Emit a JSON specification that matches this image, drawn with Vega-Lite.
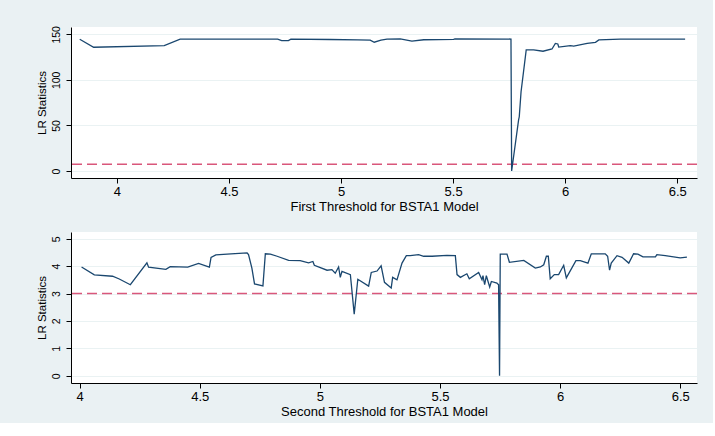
{
  "$schema": "https://vega.github.io/schema/vega-lite/v6.json",
  "background": "#eaf1f3",
  "padding": {"left": 36, "top": 25, "right": 15, "bottom": 5},
  "autosize": {"type": "pad"},
  "datasets": {
    "first": [
      {"threshold": 3.834, "lr": 144.6},
      {"threshold": 3.896, "lr": 135.8},
      {"threshold": 4.211, "lr": 137.5},
      {"threshold": 4.282, "lr": 144.6},
      {"threshold": 4.5, "lr": 144.8},
      {"threshold": 4.717, "lr": 144.6},
      {"threshold": 4.735, "lr": 143.0},
      {"threshold": 4.765, "lr": 143.0},
      {"threshold": 4.776, "lr": 144.6},
      {"threshold": 4.95, "lr": 144.3},
      {"threshold": 5.074, "lr": 143.8},
      {"threshold": 5.13, "lr": 143.6},
      {"threshold": 5.148, "lr": 141.3},
      {"threshold": 5.178, "lr": 143.5},
      {"threshold": 5.205, "lr": 144.6},
      {"threshold": 5.264, "lr": 145.0},
      {"threshold": 5.316, "lr": 142.4},
      {"threshold": 5.369, "lr": 144.0},
      {"threshold": 5.502, "lr": 144.5},
      {"threshold": 5.508, "lr": 145.0},
      {"threshold": 5.758, "lr": 144.8},
      {"threshold": 5.761, "lr": 0},
      {"threshold": 5.792, "lr": 56},
      {"threshold": 5.795, "lr": 59.5},
      {"threshold": 5.803, "lr": 87},
      {"threshold": 5.826, "lr": 132.8},
      {"threshold": 5.859, "lr": 132.8},
      {"threshold": 5.901, "lr": 131.4},
      {"threshold": 5.941, "lr": 133.9},
      {"threshold": 5.956, "lr": 140},
      {"threshold": 5.967, "lr": 139.4},
      {"threshold": 5.971, "lr": 136},
      {"threshold": 6.023, "lr": 137.5},
      {"threshold": 6.038, "lr": 137},
      {"threshold": 6.098, "lr": 140},
      {"threshold": 6.135, "lr": 141.2},
      {"threshold": 6.15, "lr": 143.8},
      {"threshold": 6.246, "lr": 144.6},
      {"threshold": 6.535, "lr": 144.6}
    ],
    "second": [
      {"threshold": 4.008, "lr": 3.97},
      {"threshold": 4.061, "lr": 3.68},
      {"threshold": 4.137, "lr": 3.63},
      {"threshold": 4.165, "lr": 3.53},
      {"threshold": 4.211, "lr": 3.32},
      {"threshold": 4.28, "lr": 4.12},
      {"threshold": 4.287, "lr": 3.96},
      {"threshold": 4.359, "lr": 3.88},
      {"threshold": 4.377, "lr": 3.98},
      {"threshold": 4.45, "lr": 3.96},
      {"threshold": 4.495, "lr": 4.10},
      {"threshold": 4.54, "lr": 3.96},
      {"threshold": 4.547, "lr": 4.32},
      {"threshold": 4.567, "lr": 4.41},
      {"threshold": 4.63, "lr": 4.45},
      {"threshold": 4.697, "lr": 4.48},
      {"threshold": 4.703, "lr": 4.42},
      {"threshold": 4.717, "lr": 3.93},
      {"threshold": 4.728, "lr": 3.35},
      {"threshold": 4.763, "lr": 3.28},
      {"threshold": 4.773, "lr": 4.45},
      {"threshold": 4.794, "lr": 4.44},
      {"threshold": 4.822, "lr": 4.36},
      {"threshold": 4.87, "lr": 4.21},
      {"threshold": 4.918, "lr": 4.20},
      {"threshold": 4.953, "lr": 4.12},
      {"threshold": 4.971, "lr": 4.17},
      {"threshold": 4.977, "lr": 4.03},
      {"threshold": 5.03, "lr": 3.85},
      {"threshold": 5.05, "lr": 3.87},
      {"threshold": 5.064, "lr": 3.74},
      {"threshold": 5.078, "lr": 3.97},
      {"threshold": 5.085, "lr": 3.59},
      {"threshold": 5.092, "lr": 3.81},
      {"threshold": 5.127, "lr": 3.69},
      {"threshold": 5.143, "lr": 2.25},
      {"threshold": 5.158, "lr": 3.52},
      {"threshold": 5.203, "lr": 3.27},
      {"threshold": 5.214, "lr": 3.77},
      {"threshold": 5.238, "lr": 3.82},
      {"threshold": 5.255, "lr": 4.01},
      {"threshold": 5.269, "lr": 3.41},
      {"threshold": 5.297, "lr": 3.20},
      {"threshold": 5.303, "lr": 3.59},
      {"threshold": 5.321, "lr": 3.50},
      {"threshold": 5.342, "lr": 4.11},
      {"threshold": 5.36, "lr": 4.38},
      {"threshold": 5.376, "lr": 4.38},
      {"threshold": 5.411, "lr": 4.42},
      {"threshold": 5.432, "lr": 4.36},
      {"threshold": 5.467, "lr": 4.36},
      {"threshold": 5.529, "lr": 4.39},
      {"threshold": 5.564, "lr": 4.38},
      {"threshold": 5.571, "lr": 3.69},
      {"threshold": 5.585, "lr": 3.59},
      {"threshold": 5.612, "lr": 3.72},
      {"threshold": 5.622, "lr": 3.54},
      {"threshold": 5.661, "lr": 3.77},
      {"threshold": 5.675, "lr": 3.50},
      {"threshold": 5.679, "lr": 3.65},
      {"threshold": 5.686, "lr": 3.32},
      {"threshold": 5.693, "lr": 3.65},
      {"threshold": 5.707, "lr": 3.24},
      {"threshold": 5.714, "lr": 3.44},
      {"threshold": 5.737, "lr": 3.38},
      {"threshold": 5.744, "lr": 3.32},
      {"threshold": 5.748, "lr": 0.0},
      {"threshold": 5.751, "lr": 4.44},
      {"threshold": 5.779, "lr": 4.44},
      {"threshold": 5.789, "lr": 4.14},
      {"threshold": 5.849, "lr": 4.21},
      {"threshold": 5.897, "lr": 3.93},
      {"threshold": 5.918, "lr": 3.97},
      {"threshold": 5.932, "lr": 4.05},
      {"threshold": 5.943, "lr": 4.36},
      {"threshold": 5.951, "lr": 4.36},
      {"threshold": 5.959, "lr": 3.54},
      {"threshold": 5.976, "lr": 3.69},
      {"threshold": 5.994, "lr": 3.69},
      {"threshold": 6.015, "lr": 4.03},
      {"threshold": 6.026, "lr": 3.57},
      {"threshold": 6.066, "lr": 4.20},
      {"threshold": 6.084, "lr": 4.20},
      {"threshold": 6.116, "lr": 4.11},
      {"threshold": 6.13, "lr": 4.45},
      {"threshold": 6.188, "lr": 4.45},
      {"threshold": 6.198, "lr": 4.36},
      {"threshold": 6.206, "lr": 3.85},
      {"threshold": 6.213, "lr": 4.11},
      {"threshold": 6.237, "lr": 4.38},
      {"threshold": 6.258, "lr": 4.32},
      {"threshold": 6.286, "lr": 4.11},
      {"threshold": 6.306, "lr": 4.45},
      {"threshold": 6.324, "lr": 4.44},
      {"threshold": 6.345, "lr": 4.34},
      {"threshold": 6.397, "lr": 4.34},
      {"threshold": 6.403, "lr": 4.42},
      {"threshold": 6.438, "lr": 4.38},
      {"threshold": 6.5, "lr": 4.30},
      {"threshold": 6.528, "lr": 4.33}
    ],
    "crit1": [{"crit": 7.35}],
    "crit2": [{"crit": 3.0}]
  },
  "config": {
    "font": "Liberation Sans",
    "view": {"fill": "white", "stroke": null},
    "axis": {
      "domainColor": "#000000",
      "tickColor": "#000000",
      "labelColor": "#000000",
      "titleColor": "#000000",
      "labelFont": "Liberation Sans",
      "titleFont": "Liberation Sans",
      "labelFontSize": 13,
      "titleFontSize": 13,
      "titleFontWeight": "normal",
      "gridColor": "#eaf2f3",
      "gridWidth": 1.2,
      "tickSize": 5,
      "domainWidth": 1
    },
    "axisY": {"labelFontSize": 10.5, "titleFontSize": 11.5},
    "concat": {"spacing": 19}
  },
  "vconcat": [
    {
      "width": 626,
      "height": 151,
      "layer": [
        {
          "data": {"name": "crit1"},
          "mark": {"type": "rule", "color": "#d9577b", "strokeDash": [10, 5], "strokeWidth": 1.5},
          "encoding": {
            "y": {
              "field": "crit", "type": "quantitative",
              "scale": {"domain": [-7.7, 158], "nice": false, "zero": false},
              "axis": {"values": [0, 50, 100, 150], "format": "d", "title": "LR Statistics", "labelAngle": 270, "labelOverlap": false, "grid": true, "titlePadding": 4, "labelPadding": 5}
            }
          }
        },
        {
          "data": {"name": "first"},
          "mark": {"type": "line", "color": "#1a476f", "strokeWidth": 1.3},
          "encoding": {
            "x": {
              "field": "threshold", "type": "quantitative",
              "scale": {"domain": [3.795, 6.588], "nice": false, "zero": false},
              "axis": {"values": [4, 4.5, 5, 5.5, 6, 6.5], "format": ".1~f", "title": "First Threshold for BSTA1 Model", "grid": false, "labelFlush": false, "labelOverlap": false, "titlePadding": 2, "labelPadding": 2}
            },
            "y": {
              "field": "lr", "type": "quantitative",
              "scale": {"domain": [-7.7, 158], "nice": false, "zero": false},
              "axis": {"values": [0, 50, 100, 150], "format": "d", "title": "LR Statistics", "labelAngle": 270, "labelOverlap": false, "grid": true, "titlePadding": 4, "labelPadding": 5}
            }
          }
        }
      ]
    },
    {
      "width": 626,
      "height": 151,
      "layer": [
        {
          "data": {"name": "crit2"},
          "mark": {"type": "rule", "color": "#d9577b", "strokeDash": [10, 5], "strokeWidth": 1.5},
          "encoding": {
            "y": {
              "field": "crit", "type": "quantitative",
              "scale": {"domain": [-0.266, 5.245], "nice": false, "zero": false},
              "axis": {"values": [0, 1, 2, 3, 4, 5], "format": "d", "title": "LR Statistics", "labelAngle": 270, "labelOverlap": false, "grid": true, "titlePadding": 4, "labelPadding": 5}
            }
          }
        },
        {
          "data": {"name": "second"},
          "mark": {"type": "line", "color": "#1a476f", "strokeWidth": 1.3},
          "encoding": {
            "x": {
              "field": "threshold", "type": "quantitative",
              "scale": {"domain": [3.964, 6.57], "nice": false, "zero": false},
              "axis": {"values": [4, 4.5, 5, 5.5, 6, 6.5], "format": ".1~f", "title": "Second Threshold for BSTA1 Model", "grid": false, "labelFlush": false, "labelOverlap": false, "titlePadding": 2, "labelPadding": 2}
            },
            "y": {
              "field": "lr", "type": "quantitative",
              "scale": {"domain": [-0.266, 5.245], "nice": false, "zero": false},
              "axis": {"values": [0, 1, 2, 3, 4, 5], "format": "d", "title": "LR Statistics", "labelAngle": 270, "labelOverlap": false, "grid": true, "titlePadding": 4, "labelPadding": 5}
            }
          }
        }
      ]
    }
  ]
}
